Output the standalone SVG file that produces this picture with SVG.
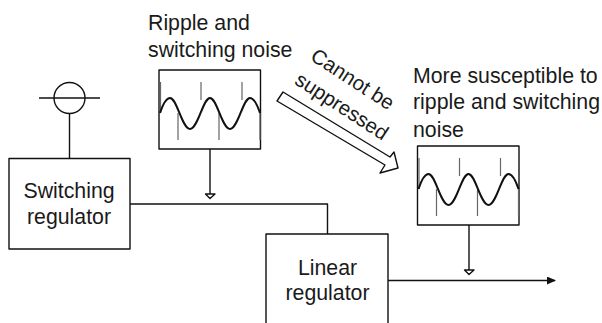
<svg xmlns="http://www.w3.org/2000/svg" width="602" height="323" viewBox="0 0 602 323">
<style>
text{font-family:"Liberation Sans",Arial,sans-serif;font-size:21.300px;fill:#1a1a1a}
.m{text-anchor:middle}
.r{font-size:20.500px}
.l{fill:none;stroke:#111;stroke-width:1.4;stroke-linejoin:round}
.s{fill:none;stroke:#666;stroke-width:1.2}
.w{fill:none;stroke:#111;stroke-width:2}
</style>
<defs>
<marker id="a" markerWidth="9" markerHeight="8" refX="8" refY="4" orient="auto" markerUnits="userSpaceOnUse"><path d="M0 0L9 4L0 8Z" fill="#111"/></marker>
<g id="scope">
<rect x="0" y="0" width="101.500" height="79" class="l"/>
<path class="s" d="M1.500 12V43M19 43V70M42 12V30M60 43V70M83 12V30M101 43V70"/>
<path class="w" d="M1 43C4 34 7 28 11 28C18 28 23 59 31 59C39 59 44 28 51 28C58 28 63 59 71 59C79 59 84 28 91 28C95 28 98 34 101 43"/>
</g>
</defs>
<g id="connectors">
<path class="l" d="M69.500 113V158"/>
<path class="l" d="M130 204H327.500V234"/>
<path class="l" d="M210 149V194"/>
<path class="l" d="M205.500 194H215L210 198.500Z"/>
<path class="l" d="M469 225V270"/>
<path class="l" d="M464.500 270H474L469 274.500Z"/>
<path class="l" d="M388 280.500H555" marker-end="url(#a)"/>
<path class="l" d="M277 101L283 92L390 157L394 152L398 168L380 173L385 165Z"/>
</g>
<g id="switching-regulator">
<rect x="9" y="158.500" width="121" height="90.500" class="l"/>
<text class="m" x="69" y="198">Switching</text>
<text class="m" x="69" y="224">regulator</text>
</g>
<g id="source">
<circle cx="69.500" cy="98" r="15.500" class="l"/>
<path class="l" d="M39 98H100"/>
</g>
<g id="linear-regulator">
<path class="l" d="M266 323V234H388V323"/>
<text class="m" x="327.500" y="275">Linear</text>
<text class="m" x="327.500" y="300">regulator</text>
</g>
<g id="scope-1">
<use href="#scope" x="159" y="70"/>
<text x="148" y="30">Ripple and</text>
<text x="148" y="57">switching noise</text>
</g>
<g id="scope-2">
<use href="#scope" x="417.500" y="146"/>
<text x="413" y="83">More susceptible to</text>
<text x="413" y="109">ripple and switching</text>
<text x="413" y="137">noise</text>
</g>
<g id="arrow-label">
<text class="m r" transform="translate(349 85) rotate(33)">Cannot be</text>
<text class="m r" transform="translate(338 112) rotate(33)">suppressed</text>
</g>
</svg>
